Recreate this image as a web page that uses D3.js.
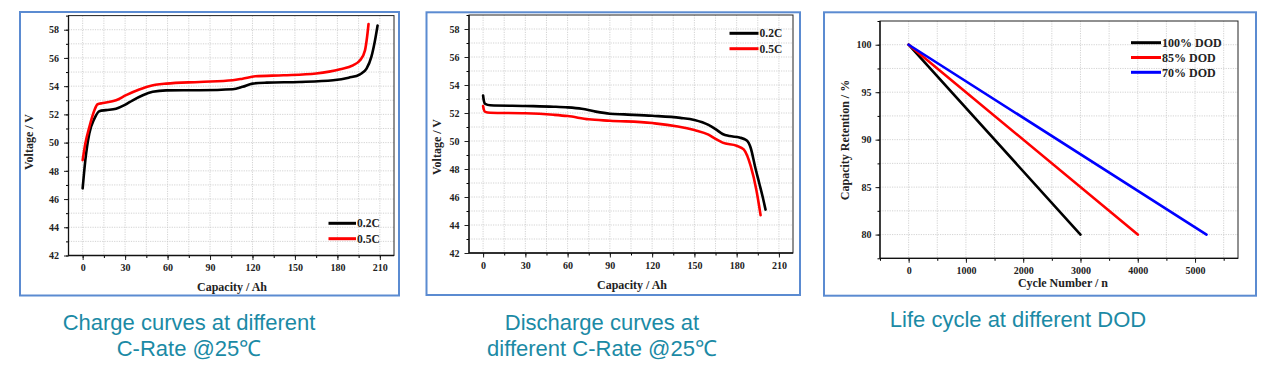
<!DOCTYPE html>
<html><head><meta charset="utf-8">
<script src="https://cdn.jsdelivr.net/npm/d3@7/dist/d3.min.js"></script>
<style>
html,body{margin:0;padding:0;background:#fff;}
svg{display:block;}
</style></head>
<body>
<svg id="chart" width="1278" height="365"></svg>
<script>
// ---------- DATA ----------
const voltageTicks = [42,44,46,48,50,52,54,56,58];
const capacityTicks = [0,30,60,90,120,150,180,210];
const cycleTicks = [0,1000,2000,3000,4000,5000];
const retentionTicks = [80,85,90,95,100];

const chargeSeriesNames = ["0.2C","0.5C"];
const charge02C_cap = [0,1.9,4.7,8.3,11.8,16.5,23.6,29.5,35.4,42.5,49.5,59,82.6,106,113,120,130,153,177,188,196,200.6,204,206.5,208.4];
const charge02C_v   = [46.76,48.76,50.65,51.7,52.23,52.3,52.4,52.65,53.0,53.36,53.6,53.7,53.71,53.78,53.95,54.18,54.25,54.3,54.42,54.6,54.84,55.24,56.07,57.2,58.3];
const charge05C_cap = [0,1.9,4.7,8.3,10.6,14.2,23.6,30.7,40,47,59,82.6,106,113,122,142,165,182,191,196,199.5,201,202];
const charge05C_v   = [48.76,49.94,51.1,52.3,52.72,52.8,53.0,53.36,53.76,54.0,54.18,54.3,54.42,54.53,54.7,54.77,54.9,55.2,55.48,55.83,56.54,57.5,58.4];

const dischargeSeriesNames = ["0.2C","0.5C"];
const discharge02C_cap = [0,0.5,1.5,5,30,50,60,70,80,90,100,120,140,150,160,165,170,175,182,187,190,193,196,198.5,200.5];
const discharge02C_v   = [53.25,52.9,52.65,52.55,52.5,52.45,52.4,52.3,52.1,51.95,51.9,51.8,51.65,51.5,51.15,50.85,50.5,50.35,50.25,50.05,49.5,48.2,47.0,46.0,45.1];
const discharge05C_cap = [0,0.5,1.5,5,30,50,60,75,90,120,150,160,165,170,180,185,190,194,197];
const discharge05C_v   = [52.5,52.25,52.08,52.02,51.98,51.87,51.78,51.55,51.45,51.28,50.78,50.45,50.15,49.88,49.66,49.4,48.2,46.5,44.7];

const dodNames = ["100% DOD","85% DOD","70% DOD"];
const dodCycles = [[0,3000],[0,4000],[0,5200]];
const dodRetention = [[100,80],[100,80],[100,80]];

const captions = [
  ["Charge curves at different","C-Rate @25\u2103"],
  ["Discharge curves at","different C-Rate @25\u2103"],
  ["Life cycle at different DOD"]
];

// ---------- DRAW ----------
const svg = d3.select("#chart");
const SERIF = "'Liberation Serif','Times New Roman',serif";
const SANS = "'Liberation Sans',Arial,sans-serif";
const zip = (xs, ys) => xs.map((x,i)=>[x, ys[i]]);

function panel(cfg){
  const g = svg.append("g");
  g.append("rect").attr("x",cfg.box[0]).attr("y",cfg.box[1])
    .attr("width",cfg.box[2]-cfg.box[0]).attr("height",cfg.box[3]-cfg.box[1])
    .attr("fill","#fff").attr("stroke","#5b8bd1").attr("stroke-width",2);

  const x = d3.scaleLinear().domain(cfg.xDomain).range([cfg.plot.left,cfg.plot.right]);
  const y = d3.scaleLinear().domain(cfg.yDomain).range([cfg.plot.bottom,cfg.plot.top]);

  const grid = g.append("g").attr("stroke","#c8c8c8").attr("stroke-width",0.8).attr("stroke-dasharray","1.2,1.2");
  cfg.xGrid.forEach(v=>{ if(x(v)>cfg.plot.left+1 && x(v)<cfg.plot.right-1)
    grid.append("line").attr("x1",x(v)).attr("x2",x(v)).attr("y1",cfg.plot.top).attr("y2",cfg.plot.bottom);});
  cfg.yGrid.forEach(v=>{ if(y(v)>cfg.plot.top+1 && y(v)<cfg.plot.bottom-1)
    grid.append("line").attr("y1",y(v)).attr("y2",y(v)).attr("x1",cfg.plot.left).attr("x2",cfg.plot.right);});

  g.append("rect").attr("x",cfg.plot.left).attr("y",cfg.plot.top)
    .attr("width",cfg.plot.right-cfg.plot.left).attr("height",cfg.plot.bottom-cfg.plot.top)
    .attr("fill","none").attr("stroke","#222").attr("stroke-width",1);

  g.append("g").attr("transform",`translate(0,${cfg.plot.bottom})`)
    .call(d3.axisBottom(x).tickValues(cfg.xMinor).tickSize(2.5).tickFormat(""))
    .call(a=>a.select(".domain").remove());
  g.append("g").attr("transform",`translate(${cfg.plot.left},0)`)
    .call(d3.axisLeft(y).tickValues(cfg.yMinor).tickSize(2.5).tickFormat(""))
    .call(a=>a.select(".domain").remove());
  const ax = g.append("g").attr("transform",`translate(0,${cfg.plot.bottom})`)
    .call(d3.axisBottom(x).tickValues(cfg.xTicks).tickSize(4.5).tickPadding(cfg.xPad).tickFormat(d3.format("d")))
    .call(a=>a.select(".domain").remove());
  const ay = g.append("g").attr("transform",`translate(${cfg.plot.left},0)`)
    .call(d3.axisLeft(y).tickValues(cfg.yTicks).tickSize(4.5).tickPadding(cfg.yPad).tickFormat(d3.format("d")))
    .call(a=>a.select(".domain").remove());
  [ax,ay].forEach(a=>{
    a.selectAll("text").attr("font-family",SERIF).attr("font-weight","bold").attr("font-size",cfg.tickFont).attr("fill","#222");
    a.selectAll("line").attr("stroke","#222");
  });
  g.append("line").attr("x1",cfg.plot.left).attr("x2",cfg.plot.right).attr("y1",cfg.plot.bottom).attr("y2",cfg.plot.bottom).attr("stroke","#111").attr("stroke-width",1.3);
  g.append("line").attr("x1",cfg.plot.left).attr("x2",cfg.plot.left).attr("y1",cfg.plot.top).attr("y2",cfg.plot.bottom).attr("stroke","#111").attr("stroke-width",1.3);

  g.append("text").attr("x",cfg.xTitle[0]).attr("y",cfg.xTitle[1]).attr("text-anchor","middle")
    .attr("font-family",SERIF).attr("font-weight","bold").attr("font-size",cfg.titleFont).attr("fill","#222").text(cfg.xLabel);
  g.append("text").attr("transform",`translate(${cfg.yTitle[0]},${cfg.yTitle[1]}) rotate(-90)`).attr("text-anchor","middle")
    .attr("font-family",SERIF).attr("font-weight","bold").attr("font-size",cfg.titleFont).attr("fill","#222").text(cfg.yLabel);

  const line = d3.line().x(d=>x(d[0])).y(d=>y(d[1])).curve(cfg.curve);
  cfg.series.forEach(s=>{
    g.append("path").datum(s.data).attr("d",line).attr("fill","none")
      .attr("stroke",s.color).attr("stroke-width",cfg.lineWidth).attr("stroke-linejoin","round").attr("stroke-linecap","round");
  });

  cfg.series.forEach((s,i)=>{
    const ly = cfg.legend.y + i*cfg.legend.dy;
    g.append("line").attr("x1",cfg.legend.x1).attr("x2",cfg.legend.x2).attr("y1",ly).attr("y2",ly)
      .attr("stroke",s.color).attr("stroke-width",3);
    g.append("text").attr("x",cfg.legend.x2+1).attr("y",ly).attr("dy","0.35em")
      .attr("font-family",SERIF).attr("font-weight","bold").attr("font-size",cfg.legend.font).attr("fill","#222").text(s.name);
  });

  cfg.caption.forEach((t,i)=>{
    svg.append("text").attr("x",cfg.capX).attr("y",cfg.capY + i*26).attr("text-anchor","middle")
      .attr("font-family",SANS).attr("font-size",22).attr("fill","#1b8aa5").text(t);
  });
}

const vMinor = d3.range(42,59.01,1), capMinor = d3.range(-0,220.01,15);

panel({
  box:[20,12,399,295.5],
  plot:{left:68.5,right:394,top:15.6,bottom:255.5},
  xDomain:[-10,220], yDomain:[42,59],
  xTicks:capacityTicks, yTicks:voltageTicks, xMinor:capMinor, yMinor:vMinor,
  xGrid:capMinor, yGrid:vMinor, xPad:4, yPad:5, tickFont:10, titleFont:12,
  xLabel:"Capacity / Ah", yLabel:"Voltage / V", xTitle:[232,291], yTitle:[33,142],
  curve:d3.curveMonotoneX, lineWidth:2.6,
  series:[
    {name:chargeSeriesNames[0], color:"#000", data:zip(charge02C_cap,charge02C_v)},
    {name:chargeSeriesNames[1], color:"#f00", data:zip(charge05C_cap,charge05C_v)}
  ],
  legend:{x1:328.5,x2:356,y:223.3,dy:15.4,font:11.5},
  caption:captions[0], capX:189, capY:330
});

panel({
  box:[426.5,12.3,800,295],
  plot:{left:469,right:793,top:15,bottom:253},
  xDomain:[-10,220], yDomain:[42,59],
  xTicks:capacityTicks, yTicks:voltageTicks, xMinor:capMinor, yMinor:vMinor,
  xGrid:capMinor, yGrid:vMinor, xPad:4, yPad:5, tickFont:10, titleFont:12,
  xLabel:"Capacity / Ah", yLabel:"Voltage / V", xTitle:[632,289], yTitle:[441,147],
  curve:d3.curveMonotoneX, lineWidth:2.6,
  series:[
    {name:dischargeSeriesNames[0], color:"#000", data:zip(discharge02C_cap,discharge02C_v)},
    {name:dischargeSeriesNames[1], color:"#f00", data:zip(discharge05C_cap,discharge05C_v)}
  ],
  legend:{x1:729.5,x2:758.5,y:33.3,dy:15.4,font:11.5},
  caption:captions[1], capX:602, capY:330
});

panel({
  box:[824,12.3,1256,295.7],
  plot:{left:880,right:1238,top:21,bottom:258.3},
  xDomain:[-500,5750], yDomain:[77.5,102.5],
  xTicks:cycleTicks, yTicks:retentionTicks,
  xMinor:d3.range(-500,5501,500), yMinor:d3.range(77.5,102.51,2.5),
  xGrid:d3.range(-500,5501,500), yGrid:d3.range(77.5,102.51,2.5),
  xPad:4, yPad:4, tickFont:10, titleFont:12,
  xLabel:"Cycle Number / n", yLabel:"Capacity Retention / %", xTitle:[1063,287], yTitle:[849,140],
  curve:d3.curveLinear, lineWidth:2.6,
  series:dodNames.map((n,i)=>({name:n, color:["#000","#f00","#0000ff"][i], data:zip(dodCycles[i],dodRetention[i])})),
  legend:{x1:1131,x2:1161,y:42.7,dy:14.8,font:12},
  caption:captions[2], capX:1018, capY:327
});
</script>
</body></html>
